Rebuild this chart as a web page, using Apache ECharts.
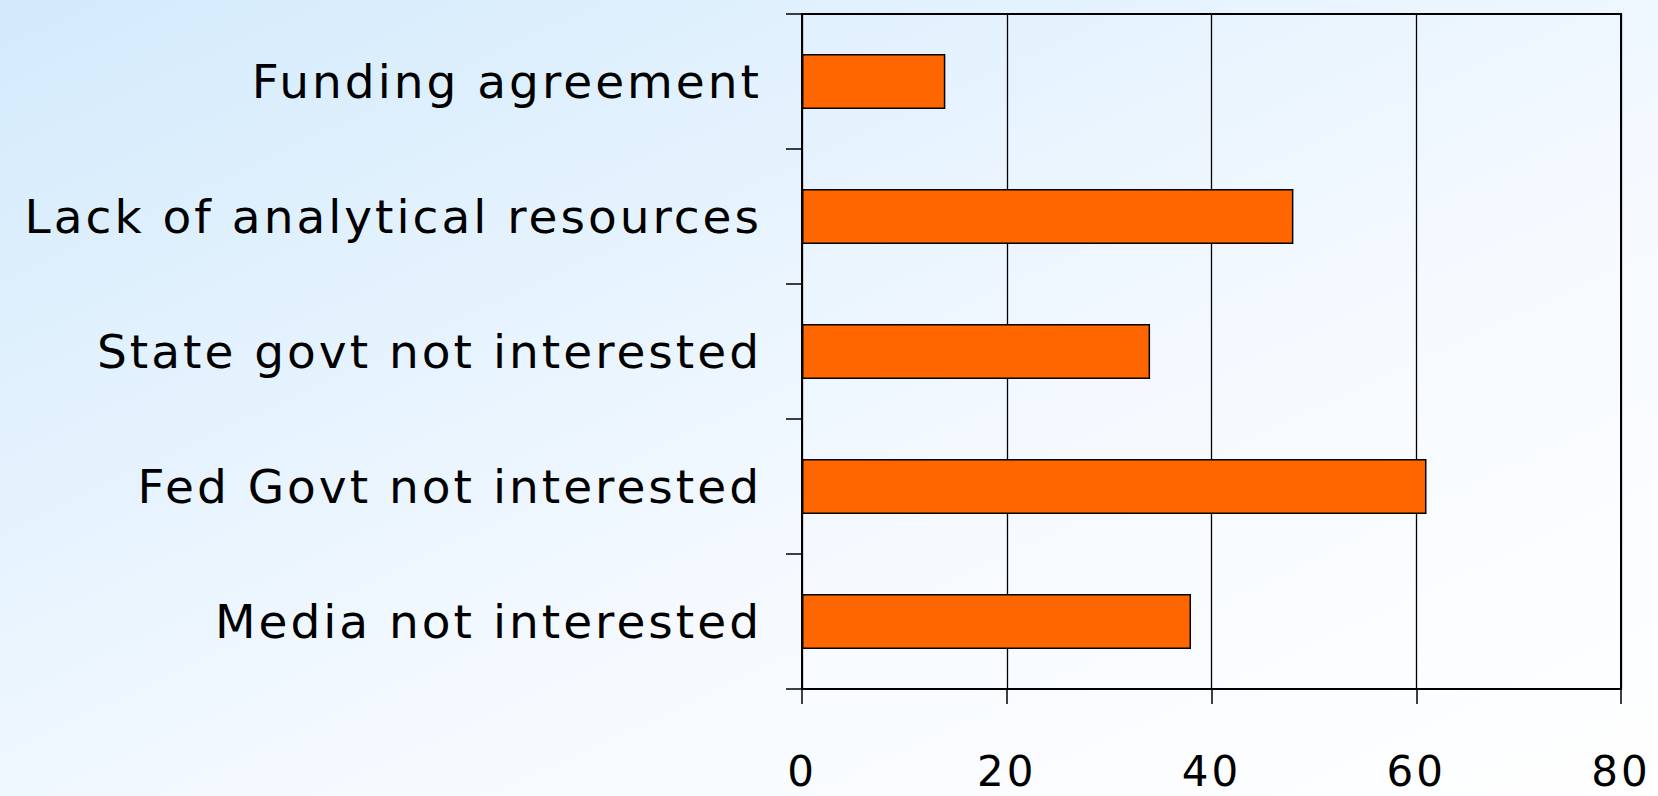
<!DOCTYPE html>
<html>
<head>
<meta charset="utf-8">
<script src="https://cdn.jsdelivr.net/npm/echarts@6/dist/echarts.min.js"></script>
<style>
  html, body { margin: 0; padding: 0; }
  body {
    width: 1658px; height: 796px;
    background: linear-gradient(155deg, #d3eafb 0%, #e6f3fe 35%, #f6faff 62%, #ffffff 100%);
  }
  #chart { width: 1658px; height: 796px; }
  /* the original labels are set with wide tracking */
  #chart text { letter-spacing: 3px; }
</style>
</head>
<body>
<div id="chart"></div>
<script>
  // categories top to bottom
  const categories = [
    'Funding agreement',
    'Lack of analytical resources',
    'State govt not interested',
    'Fed Govt not interested',
    'Media not interested'
  ];
  const values = [14, 48, 34, 61, 38];
  const xTicks = [0, 20, 40, 60, 80];

  const myChart = echarts.init(document.getElementById('chart'), null, { renderer: 'svg' });

  const fontFamily = 'DejaVu Sans';

  const option = {
    animation: false,
    grid: {
      left: 802,
      top: 14,
      right: 37,
      bottom: 107,
      show: true,
      backgroundColor: 'transparent',
      borderColor: '#000',
      borderWidth: 2
    },
    xAxis: {
      type: 'value',
      min: xTicks[0],
      max: xTicks[xTicks.length - 1],
      interval: xTicks[1] - xTicks[0],
      axisLine: { show: true, lineStyle: { color: '#000', width: 2 } },
      axisTick: { show: true, inside: false, length: 15, lineStyle: { color: '#000', width: 1.5 } },
      axisLabel: {
        color: '#000',
        fontSize: 42,
        lineHeight: 36,
        fontFamily: fontFamily,
        margin: 64
      },
      splitLine: { show: true, lineStyle: { color: '#000', width: 1.3 } }
    },
    yAxis: {
      type: 'category',
      inverse: true,
      data: categories,
      axisLine: { show: true, lineStyle: { color: '#000', width: 2 } },
      axisTick: { show: true, length: 16, lineStyle: { color: '#000', width: 1.5 } },
      axisLabel: {
        color: '#000',
        fontSize: 47,
        fontFamily: fontFamily,
        margin: 40
      }
    },
    series: [{
      type: 'bar',
      data: values,
      barWidth: 55,
      itemStyle: {
        color: '#ff6600',
        borderColor: '#000',
        borderWidth: 1.5
      }
    }]
  };

  myChart.setOption(option);

  window.addEventListener('resize', () => {
    myChart.resize();
  });
</script>
</body>
</html>
